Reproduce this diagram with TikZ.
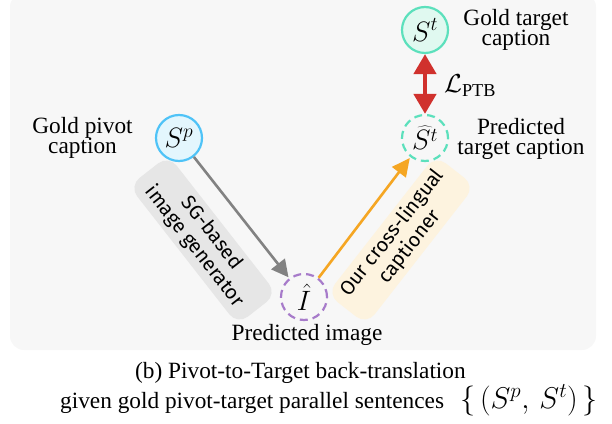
\documentclass[tikz,border=0pt]{standalone}
\usepackage{fix-cm}
\usepackage{fontspec}
\setmainfont{Liberation Serif}
\newfontfamily\handfont{Fira Sans}
\usetikzlibrary{positioning,arrows.meta}

\definecolor{panelGray}{HTML}{F7F7F7}
\definecolor{pivotBlue}{HTML}{4FC3F7}
\definecolor{pivotFill}{HTML}{E3F6FD}
\definecolor{targetGreen}{HTML}{5CE0BC}
\definecolor{targetFill}{HTML}{E0F9F0}
\definecolor{imgPurple}{HTML}{A77BCA}
\definecolor{lossRed}{HTML}{D0312D}
\definecolor{genGray}{HTML}{828282}
\definecolor{capOrange}{HTML}{F5A623}
\definecolor{genFill}{HTML}{E6E6E6}
\definecolor{capFill}{HTML}{FDF3DF}

\tikzset{
  sent/.style={circle, minimum size=46pt, inner sep=0pt, line width=2.2pt,
    font=\fontsize{28}{28}\selectfont},
  predsent/.style={sent, dash pattern=on 8pt off 5pt, fill=panelGray},
  lbl/.style={align=center, inner sep=0pt, font=\rmfamily\fontsize{23.3}{20.5}\selectfont},
  genArrow/.style={draw=genGray, line width=2.6pt, shorten >=1pt,
    -{Triangle[length=17pt,width=17pt]}},
  capArrow/.style={draw=capOrange, line width=2.6pt, shorten >=1pt,
    -{Triangle[length=18pt,width=17pt]}},
  lossArrow/.style={draw=lossRed, line width=4.5pt,
    {Triangle[length=20pt,width=22pt]}-{Triangle[length=20pt,width=22pt]}},
  stepBox/.style={rounded corners=13pt, minimum width=176pt, minimum height=50pt,
    align=center, inner sep=2pt, font=\handfont\fontsize{20}{22}\selectfont}
}

\begin{document}
\begin{tikzpicture}[x=1pt,y=1pt]
  \useasboundingbox (0,0) rectangle (612,423);
  % panel
  \fill[panelGray, rounded corners=14pt] (10,73) rectangle (596,430);

  % tilted module labels
  \node[stepBox, fill=genFill, rotate=-52] (genBox) at (203,183) {SG-based\\image generator};
  \node[stepBox, fill=capFill, rotate=52] (capBox) at (401,183) {Our cross-lingual\\captioner};

  % sentences and image
  \node[sent, draw=pivotBlue, fill=pivotFill] (Sp) at (179,285) {$S^p$};
  \node[sent, draw=targetGreen, fill=targetFill] (St) at (425,393) {$S^t$};
  \node[predsent, draw=targetGreen] (Sth) at (425,285) {$\widehat{S^t}$};
  \node[predsent, draw=imgPurple] (Ih) at (304,126) {$\hat{I}$};

  % texts
  \node[lbl] (SpLbl) at (82.5,285) {Gold pivot\\caption};
  \node[lbl] (StLbl) at (516,393) {Gold target\\caption};
  \node[lbl] (SthLbl) at (521,284) {Predicted\\target caption};
  \node[lbl] (IhLbl) at (307,88) {Predicted image};
  \node[lbl, font=\fontsize{26}{26}\selectfont] (loss) at (470,337) {$\mathcal{L}_{\mathrm{PTB}}$};

  % arrows
  \draw[genArrow] (Sp) -- (Ih);
  \draw[capArrow] (Ih) -- (Sth);
  \draw[lossArrow] (St) -- (Sth);

  % caption
  \node[lbl, anchor=base west] (capA) at (135,45) {(b) Pivot-to-Target back-translation};
  \node[lbl, anchor=base west] (capB) at (60,15) {given gold pivot-target parallel sentences};
  \node[lbl, anchor=base east, font=\fontsize{30}{30}\selectfont] (capSet) at (598,15)
    {$\big\{\,(S^p,\,S^t)\,\big\}$};
\end{tikzpicture}
\end{document}
